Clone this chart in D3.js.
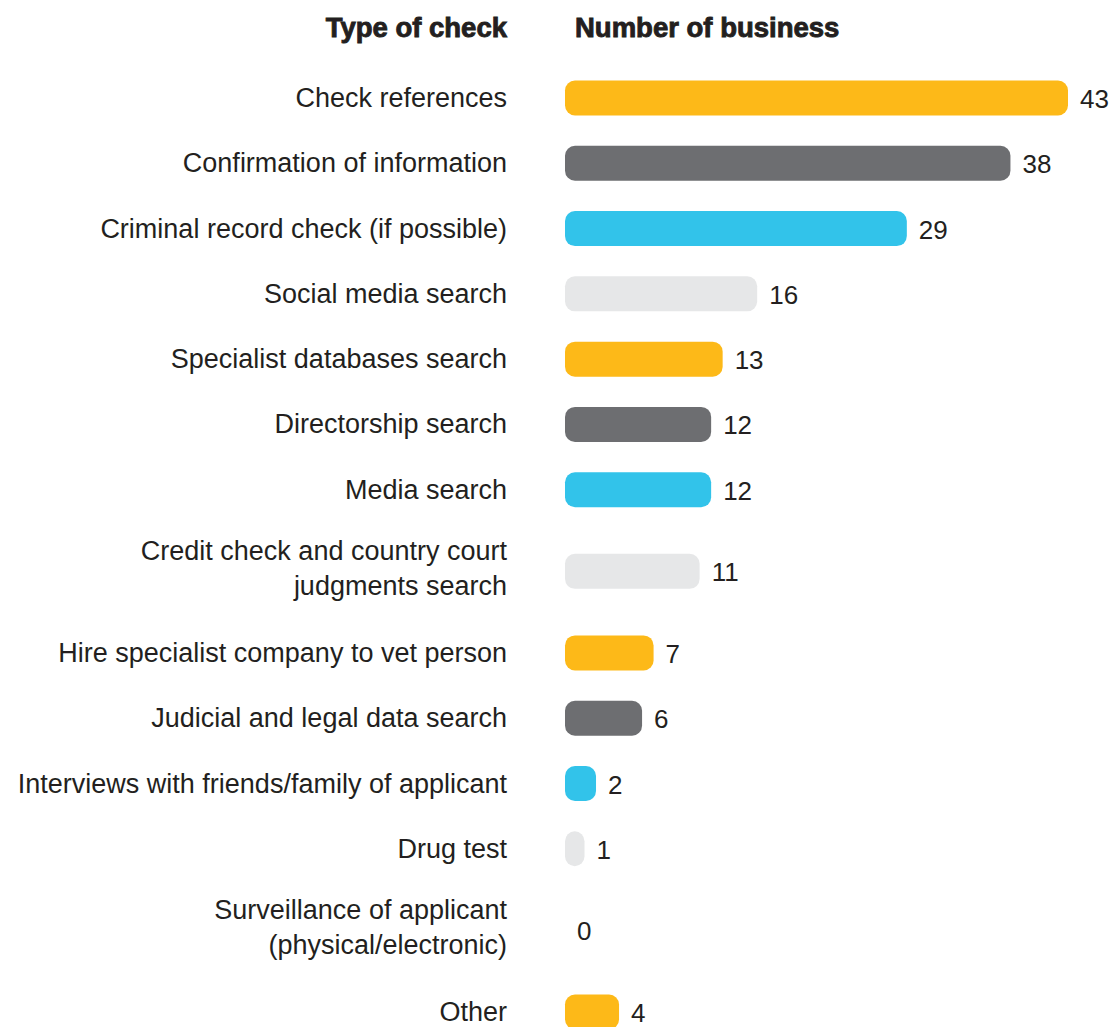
<!DOCTYPE html>
<html>
<head>
<meta charset="utf-8">
<script src="https://cdn.jsdelivr.net/npm/d3@7"></script>
<style>
  body { margin: 0; background: #fff; }
  text { font-family: "Liberation Sans", Arial, Helvetica, sans-serif; fill: #231f20; }
</style>
</head>
<body>
<svg id="chart"></svg>
<script>
// data
const categories = [
  ["Check references"],
  ["Confirmation of information"],
  ["Criminal record check (if possible)"],
  ["Social media search"],
  ["Specialist databases search"],
  ["Directorship search"],
  ["Media search"],
  ["Credit check and country court", "judgments search"],
  ["Hire specialist company to vet person"],
  ["Judicial and legal data search"],
  ["Interviews with friends/family of applicant"],
  ["Drug test"],
  ["Surveillance of applicant", "(physical/electronic)"],
  ["Other"]
];
const values = [43, 38, 29, 16, 13, 12, 12, 11, 7, 6, 2, 1, 0, 4];
const headers = ["Type of check", "Number of business"];

drawChart();

function drawChart() {
    const WIDTH = 1111;
    const HEIGHT = 1027;
    const BAR_X = 565;
    const LABEL_X = 507;
    const BAR_H = 35;

    const svg = d3.select("#chart")
        .attr("width", WIDTH)
        .attr("height", HEIGHT);

    const rowsData = values.map((v, i) => ({ lines: categories[i], value: v, i: i }));

    const palette = ["#fdb918", "#6d6e71", "#32c3ea", "#e6e7e8"];
    // colours follow the 4-step cycle, "Other" is orange again
    const color = d3.scaleOrdinal()
        .domain(d3.range(values.length))
        .range(values.map((v, i) => i === values.length - 1 ? palette[0] : palette[i % 4]));

    // two-line rows take a bit more room
    const rowSize = categories.map(c => c.length > 1 ? 1.5 : 1);
    const ends = d3.cumsum(rowSize);
    const centers = rowSize.map((s, i) => ends[i] - s / 2);
    const y = d3.scaleLinear()
        .domain([centers[0], centers[centers.length - 1]])
        .range([98, 1012]);

    const x = d3.scaleLinear()
        .domain([0, d3.max(values)])
        .range([8, 503]);
    const barW = v => v === 0 ? 0 : x(v);

    // headers
    svg.append("text")
        .attr("x", LABEL_X).attr("y", 37)
        .attr("text-anchor", "end")
        .style("font-size", "27.5px").style("font-weight", "bold")
        .style("stroke", "#231f20").style("stroke-width", 0.9)
        .text(headers[0]);
    svg.append("text")
        .attr("x", 575).attr("y", 37)
        .style("font-size", "27.5px").style("font-weight", "bold")
        .style("stroke", "#231f20").style("stroke-width", 0.9)
        .text(headers[1]);

    const rows = svg.selectAll("g.row")
        .data(rowsData)
        .enter()
        .append("g")
        .attr("class", "row")
        .attr("transform", d => "translate(0," + y(centers[d.i]) + ")");

    rows.filter(d => d.value > 0)
        .append("rect")
        .attr("x", BAR_X)
        .attr("y", -BAR_H / 2)
        .attr("height", BAR_H)
        .attr("width", d => barW(d.value))
        .attr("rx", 10)
        .attr("fill", d => color(d.i));

    rows.append("text")
        .attr("x", d => BAR_X + barW(d.value) + 12)
        .attr("y", 10)
        .style("font-size", "26px")
        .text(d => d.value);

    rows.each(function(d) {
        const n = d.lines.length;
        const t = d3.select(this).append("text")
            .attr("text-anchor", "end")
            .style("font-size", "27px");
        d.lines.forEach((line, j) => {
            t.append("tspan")
                .attr("x", LABEL_X)
                .attr("y", 9 + (j - (n - 1) / 2) * 35 - (n > 1 ? 3 : 0))
                .text(line);
        });
    });
}
</script>
</body>
</html>
